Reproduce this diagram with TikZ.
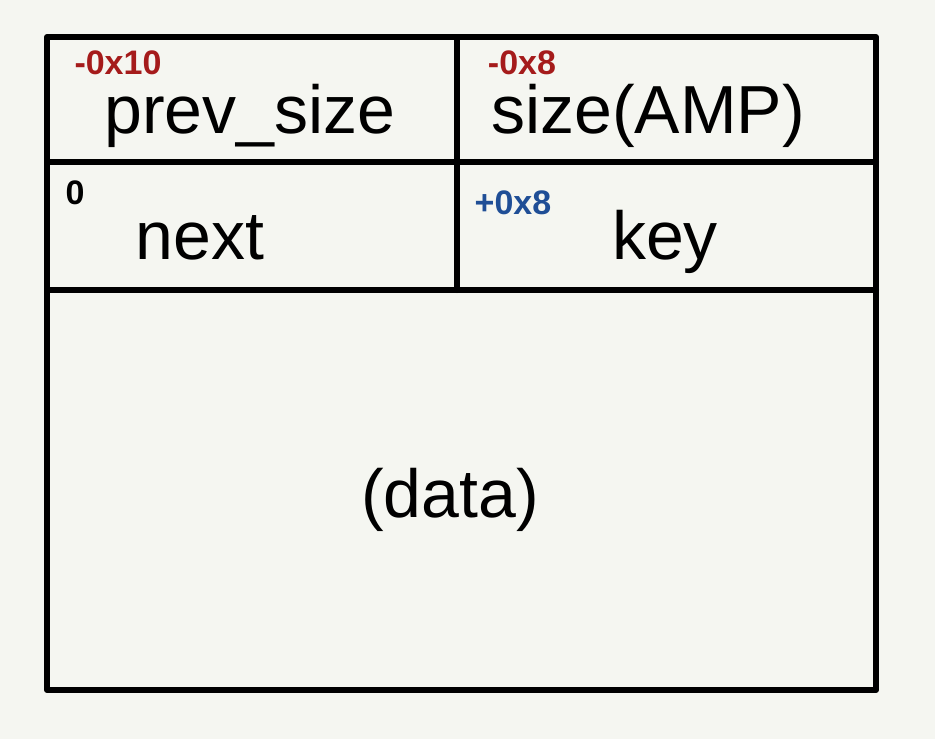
\documentclass[tikz,border=0pt]{standalone}
\usepackage{fontspec}
\setmainfont{Liberation Sans}
\definecolor{bg}{HTML}{F5F6F1}
\definecolor{offred}{HTML}{A51B1B}
\definecolor{offblue}{HTML}{1F4E96}
\begin{document}
\begin{tikzpicture}[x=0.5pt,y=-0.5pt,
  edge/.style={line width=3pt,line cap=round,line join=round},
  field/.style={font=\fontsize{34}{38}\selectfont,inner sep=0pt},
  off/.style={font=\fontsize{17}{19}\selectfont\bfseries,inner sep=0pt}]
\fill[bg] (0,0) rectangle (935,739);
\useasboundingbox (0,0) rectangle (935,739);
\draw[edge] (47,37) rectangle (876,690);
\draw[edge] (47,162) -- (876,162);
\draw[edge] (47,290) -- (876,290);
\draw[edge] (457,37) -- (457,290);
\node[field] (prev) at (250,116) {prev\_size};
\node[field] (size) at (648,116) {size(AMP)};
\node[field] (next) at (200,238) {next};
\node[field] (key) at (665,242) {key};
\node[field] (data) at (450,500) {(data)};
\node[off,text=offred] (o1) at (118,63) {-0x10};
\node[off,text=offred] (o2) at (522,63) {-0x8};
\node[off] (o3) at (75,193) {0};
\node[off,text=offblue] (o4) at (513,203) {+0x8};
\end{tikzpicture}
\end{document}
